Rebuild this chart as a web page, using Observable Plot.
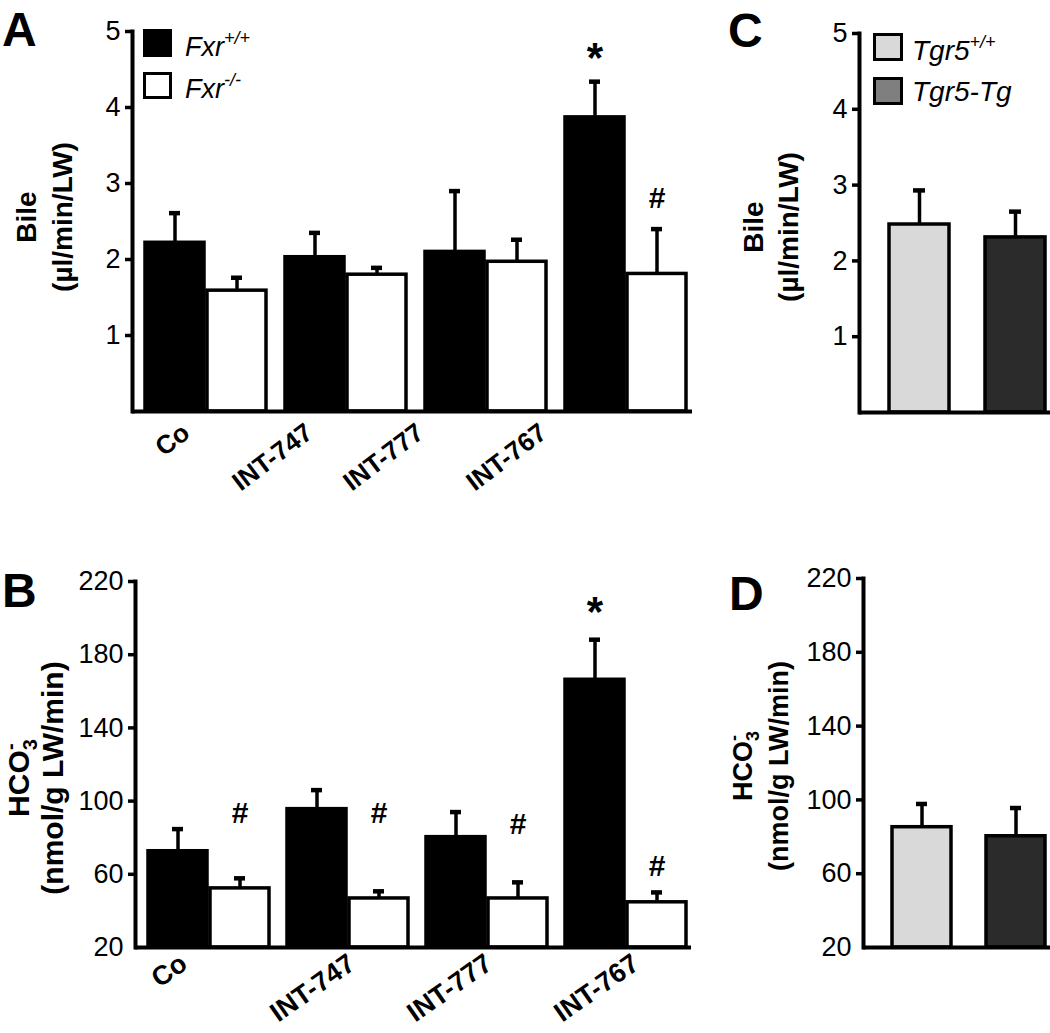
<!DOCTYPE html>
<html><head><meta charset="utf-8">
<script src="https://cdn.jsdelivr.net/npm/d3@7"></script>
<script src="https://cdn.jsdelivr.net/npm/@observablehq/plot@0.6"></script>
<style>
html,body{margin:0;padding:0;background:#fff;}
#root{position:relative;width:1050px;height:1033px;overflow:hidden;background:#fff;font-family:"Liberation Sans",Arial,sans-serif;}
#root > svg{position:absolute;}
</style></head><body><div id="root"></div>
<script>
// ---------- data ----------
const groups = ["Co", "INT-747", "INT-777", "INT-767"];
const fxrSeries = ["Fxr+/+", "Fxr-/-"];
const tgrSeries = ["Tgr5+/+", "Tgr5-Tg"];

const bileTicks = [1, 2, 3, 4, 5];
const hcoTicks = [20, 60, 100, 140, 180, 220];

// Panel A: bile flow (µl/min/LW)
const bileFxrWT = [2.22, 2.03, 2.10, 3.87];
const bileFxrWTerr = [0.39, 0.32, 0.80, 0.47];
const bileFxrKO = [1.59, 1.80, 1.97, 1.81];
const bileFxrKOerr = [0.17, 0.09, 0.29, 0.59];

// Panel B: HCO3- (nmol/g LW/min)
const hcoFxrWT = [72.6, 95.6, 80.3, 166.3];
const hcoFxrWTerr = [12.1, 10.4, 13.7, 21.9];
const hcoFxrKO = [52.3, 46.8, 46.8, 44.7];
const hcoFxrKOerr = [5.5, 3.9, 8.8, 5.4];

// Panel C: bile flow, Tgr5
const bileTgr = [2.48, 2.31];
const bileTgrErr = [0.45, 0.34];

// Panel D: HCO3-, Tgr5
const hcoTgr = [85.2, 80.3];
const hcoTgrErr = [12.6, 15.3];

// significance marks
const annAGroup = ["INT-767", "INT-767"];
const annASeries = ["Fxr+/+", "Fxr-/-"];
const annAText = ["*", "#"];
const annALevel = [4.64, 2.80];

const annBGroup = ["Co", "INT-747", "INT-777", "INT-767", "INT-767"];
const annBSeries = ["Fxr-/-", "Fxr-/-", "Fxr-/-", "Fxr-/-", "Fxr+/+"];
const annBText = ["#", "#", "#", "#", "*"];
const annBLevel = [93.4, 93.4, 87.4, 64.4, 203];

// ---------- styling ----------
const FONT = '"Liberation Sans", Arial, Helvetica, sans-serif';
const labelStyleA = {fontSize: 26, tickPadding: 18, rotate: -37, nudge: [-16, -33, -62, -79]};
const labelStyleB = {fontSize: 27, tickPadding: 13, rotate: -35, nudge: [-21, 8, 6, 14]};

function yAxes(ticks, withBaseLabel) {
  const out = [];
  const ticked = withBaseLabel ? ticks.slice(1) : ticks;
  out.push(Plot.axisY({ticks: ticked, anchor: "left", facetAnchor: "left", tickSize: 7, tickPadding: 5,
    fontSize: 27, strokeWidth: 3.5, label: null, tickFormat: d => String(d)}));
  if (withBaseLabel) {
    out.push(Plot.axisY({ticks: [ticks[0]], anchor: "left", facetAnchor: "left", tickSize: 0, tickPadding: 12,
      fontSize: 27, label: null, tickFormat: d => String(d)}));
  }
  return out;
}

function grouped(o) {
  const data = groups.flatMap((g, i) => [
    {group: g, series: fxrSeries[0], value: o.wt[i], err: o.wtErr[i]},
    {group: g, series: fxrSeries[1], value: o.ko[i], err: o.koErr[i]}
  ]);
  const ann = o.annText.map((t, i) => ({group: o.annGroup[i], series: o.annSeries[i], text: t, level: o.annLevel[i]}));
  const base = o.ticks[0] === 20 ? 20 : 0;
  const domain = [base, o.ticks[o.ticks.length - 1]];
  const ls = o.labels;
  return Plot.plot({
    width: 700, height: o.height,
    marginLeft: o.ml, marginRight: 8, marginTop: o.mt, marginBottom: o.mb,
    style: {fontFamily: FONT, color: "#000", background: "transparent", overflow: "visible"},
    fx: {domain: groups, padding: 0, axis: null, label: null},
    x: {domain: fxrSeries, paddingInner: 0.05, paddingOuter: 0.137, align: 0.7, axis: null},
    y: {domain, axis: null},
    color: {type: "ordinal", domain: fxrSeries, range: ["#000000", "#ffffff"]},
    marks: [
      Plot.ruleX(data, {fx: "group", x: "series", y1: "value", y2: d => d.value + d.err, stroke: "#000", strokeWidth: 3.5}),
      Plot.tickY(data, {fx: "group", x: "series", y: d => d.value + d.err, stroke: "#000", strokeWidth: 4.5, inset: 24}),
      Plot.barY(data, {fx: "group", x: "series", y1: base, y2: "value", fill: "series", stroke: "#000", strokeWidth: 3.5}),
      Plot.ruleY([base], {stroke: "#000", strokeWidth: 4}),
      Plot.frame({anchor: "left", facetAnchor: "left", stroke: "#000", strokeWidth: 4}),
      ...yAxes(o.ticks, base !== 0),
      Plot.text(ann.filter(d => d.text === "*"), {fx: "group", x: "series", y: "level", text: "text", fontSize: 42, fontWeight: "bold", fill: "#000"}),
      Plot.text(ann.filter(d => d.text === "#"), {fx: "group", x: "series", y: "level", text: "text", fontSize: 30, fontWeight: "bold", fill: "#000"}),
      ...groups.map((g, i) => Plot.axisFx({ticks: [g], anchor: "bottom", tickSize: 0, tickPadding: ls.tickPadding,
        tickRotate: ls.rotate, fontSize: ls.fontSize, fontWeight: "bold", dx: ls.nudge[i], label: null}))
    ]
  });
}

function pair(o) {
  const data = tgrSeries.map((s, i) => ({series: s, value: o.values[i], err: o.errs[i]}));
  const base = o.ticks[0] === 20 ? 20 : 0;
  const domain = [base, o.ticks[o.ticks.length - 1]];
  return Plot.plot({
    width: 350, height: o.height,
    marginLeft: o.ml, marginRight: 0, marginTop: o.mt, marginBottom: o.mb,
    style: {fontFamily: FONT, color: "#000", background: "transparent", overflow: "visible"},
    x: {domain: tgrSeries, paddingInner: 0.375, paddingOuter: 0.177, align: 0.85, axis: null},
    y: {domain, axis: null},
    color: {type: "ordinal", domain: tgrSeries, range: ["#d9d9d9", "#2b2b2b"]},
    marks: [
      Plot.ruleX(data, {x: "series", y1: "value", y2: d => d.value + d.err, stroke: "#000", strokeWidth: 3.5}),
      Plot.tickY(data, {x: "series", y: d => d.value + d.err, stroke: "#000", strokeWidth: 4.5, inset: 24}),
      Plot.barY(data, {x: "series", y1: base, y2: "value", fill: "series", stroke: "#000", strokeWidth: 3.5}),
      Plot.ruleY([base], {stroke: "#000", strokeWidth: 4}),
      Plot.frame({anchor: "left", stroke: "#000", strokeWidth: 4}),
      ...yAxes(o.ticks, base !== 0)
    ]
  });
}

const root = document.getElementById("root");
function place(svg, left, top) {
  svg.style.position = "absolute";
  svg.style.left = left + "px";
  svg.style.top = top + "px";
  svg.style.maxWidth = "none";
  root.appendChild(svg);
}

place(grouped({wt: bileFxrWT, wtErr: bileFxrWTerr, ko: bileFxrKO, koErr: bileFxrKOerr, ticks: bileTicks,
  height: 520, ml: 131, mt: 31, mb: 109, labels: labelStyleA,
  annGroup: annAGroup, annSeries: annASeries, annText: annAText, annLevel: annALevel}), 0, 0);

place(grouped({wt: hcoFxrWT, wtErr: hcoFxrWTerr, ko: hcoFxrKO, koErr: hcoFxrKOerr, ticks: hcoTicks,
  height: 493, ml: 133, mt: 41, mb: 86, labels: labelStyleB,
  annGroup: annBGroup, annSeries: annBSeries, annText: annBText, annLevel: annBLevel}), 0, 540);

place(pair({values: bileTgr, errs: bileTgrErr, ticks: bileTicks, height: 440, ml: 159, mt: 33, mb: 28}), 700, 0);
place(pair({values: hcoTgr, errs: hcoTgrErr, ticks: hcoTicks, height: 493, ml: 163, mt: 38, mb: 86}), 700, 540);

// ---------- overlay: panel letters, axis titles, legends ----------
const ns = "http://www.w3.org/2000/svg";
const overlay = document.createElementNS(ns, "svg");
overlay.setAttribute("width", 1050);
overlay.setAttribute("height", 1033);
overlay.setAttribute("font-family", FONT);
overlay.style.position = "absolute";
overlay.style.left = "0px";
overlay.style.top = "0px";
overlay.innerHTML = `
  <g font-size="48" font-weight="bold" fill="#000">
    <text x="2" y="46">A</text>
    <text x="2" y="607">B</text>
    <text x="728" y="47">C</text>
    <text x="729" y="610">D</text>
  </g>
  <g font-weight="bold" fill="#000" text-anchor="middle">
    <g transform="translate(0,217) rotate(-90)" font-size="28">
      <text x="0" y="36">Bile</text>
      <text x="0" y="72">(\u00b5l/min/LW)</text>
    </g>
    <g transform="translate(0,227) rotate(-90)" font-size="28">
      <text x="0" y="763">Bile</text>
      <text x="0" y="798">(\u00b5l/min/LW)</text>
    </g>
    <g transform="translate(0,778) rotate(-90)" font-size="30">
      <text x="0" y="29">HCO<tspan font-size="20" dy="8">3</tspan><tspan font-size="20" dx="-11" dy="-20">-</tspan></text>
      <text x="0" y="63">(nmol/g LW/min)</text>
    </g>
    <g transform="translate(0,766) rotate(-90)" font-size="27">
      <text x="0" y="752">HCO<tspan font-size="18" dy="7">3</tspan><tspan font-size="18" dx="-10" dy="-19">-</tspan></text>
      <text x="0" y="788">(nmol/g LW/min)</text>
    </g>
  </g>
  <g fill="#000" font-style="italic" font-size="27">
    <rect x="143" y="29" width="29" height="28" fill="#000"/>
    <rect x="144.5" y="73.5" width="26" height="24" fill="#fff" stroke="#000" stroke-width="3"/>
    <text x="185" y="56">Fxr<tspan dy="-12" font-size="18">+/+</tspan></text>
    <text x="185" y="98">Fxr<tspan dy="-12" font-size="18">-/-</tspan></text>
    <rect x="874.5" y="34.5" width="27" height="25" fill="#d9d9d9" stroke="#000" stroke-width="3"/>
    <rect x="874.5" y="78.5" width="27" height="25" fill="#7f7f7f" stroke="#000" stroke-width="3"/>
    <text x="912" y="60" font-size="28">Tgr5<tspan dy="-12" font-size="18">+/+</tspan></text>
    <text x="912" y="101" font-size="28">Tgr5-Tg</text>
  </g>`;
root.appendChild(overlay);
</script>
</body></html>
